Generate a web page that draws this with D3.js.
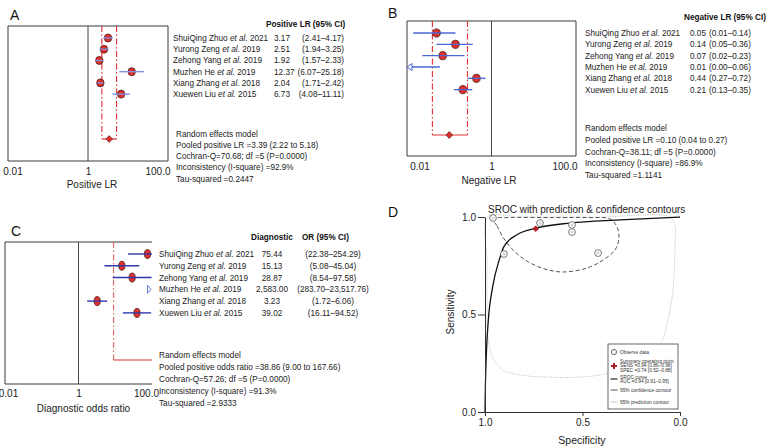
<!DOCTYPE html>
<html><head><meta charset="utf-8">
<script src="https://cdn.jsdelivr.net/npm/d3@7"></script>
<style>
body{margin:0;background:#fff;}
svg{font-family:"Liberation Sans",Arial,Helvetica,sans-serif;}
</style></head><body>
<svg id="c" width="770" height="448"></svg>
<script>
// ---------------- DATA ----------------
const studyNames = ["ShuiQing Zhuo", "Yurong Zeng", "Zehong Yang", "Muzhen He", "Xiang Zhang", "Xuewen Liu"];
const studyYears = [2021, 2019, 2019, 2019, 2018, 2015];
const forestTicks = [0.01, 1, 100];
const forestTickLabels = ["0.01", "1", "100.0"];

// A: positive LR
const plrEst = [3.17, 2.51, 1.92, 12.37, 2.04, 6.73];
const plrLo  = [2.41, 1.94, 1.57, 6.07, 1.71, 4.08];
const plrHi  = [4.17, 3.25, 2.33, 25.18, 2.42, 11.11];
const plrPooled = [3.39, 2.22, 5.18];
const plrStats = ["Random effects model", "Pooled positive LR =3.39 (2.22 to 5.18)",
  "Cochran-Q=70.68; df =5 (P=0.0000)", "Inconsistency (I-square) =92.9%", "Tau-squared =0.2447"];

// B: negative LR
const nlrEst = [0.05, 0.14, 0.07, 0.01, 0.44, 0.21];
const nlrLo  = [0.014, 0.05, 0.023, 0.003, 0.27, 0.13];
const nlrHi  = [0.14, 0.36, 0.23, 0.06, 0.72, 0.35];
const nlrPooled = [0.10, 0.04, 0.27];
const nlrStats = ["Random effects model", "Pooled positive LR =0.10 (0.04 to 0.27)",
  "Cochran-Q=38.11; df =5 (P=0.0000)", "Inconsistency (I-square) =86.9%", "Tau-squared =1.1141"];

// C: diagnostic odds ratio
const dorEst = [75.44, 15.13, 28.87, 2583.00, 3.23, 39.02];
const dorLo  = [22.38, 5.08, 8.54, 283.70, 1.72, 16.11];
const dorHi  = [254.29, 45.04, 97.58, 23517.76, 6.06, 94.52];
const dorPooled = [38.86, 9.00, 167.66];
const dorStats = ["Random effects model", "Pooled positive odds ratio =38.86 (9.00 to 167.66)",
  "Cochran-Q=57.26; df =5 (P=0.0000)", "Inconsistency (I-square) =91.3%", "Tau-squared =2.9333"];

// D: SROC
const obsSpec = [0.959, 0.718, 0.554, 0.554, 0.903, 0.420];
const obsSens = [0.995, 0.969, 0.959, 0.923, 0.810, 0.815];
const summaryPoint = {sens: 0.94, sensLo: 0.86, sensHi: 0.98, spec: 0.74, specLo: 0.52, specHi: 0.88};
const aucValues = [0.94, 0.91, 0.95];
const srocSpec = [1.0, 0.998, 0.993, 0.983, 0.961, 0.927, 0.903, 0.838, 0.733, 0.564, 0.308, 0.0];
const srocSens = [0.0, 0.13, 0.30, 0.47, 0.64, 0.78, 0.848, 0.908, 0.944, 0.969, 0.985, 1.0];
const confSpec = [0.959, 0.938, 0.908, 0.856, 0.785, 0.692, 0.600, 0.477, 0.395, 0.333, 0.313, 0.323, 0.359, 0.462, 0.667, 0.872];
const confSens = [0.990, 0.954, 0.897, 0.831, 0.774, 0.733, 0.718, 0.738, 0.779, 0.831, 0.892, 0.949, 0.990, 0.997, 0.997, 0.997];
const predSpec = [0.985, 0.990, 0.990, 0.985, 0.959, 0.908, 0.821, 0.682, 0.513, 0.359, 0.205, 0.103, 0.062, 0.036, 0.026, 0.026, 0.051, 0.41, 0.82];
const predSens = [1.0, 0.779, 0.574, 0.385, 0.277, 0.215, 0.190, 0.179, 0.179, 0.200, 0.256, 0.344, 0.472, 0.626, 0.831, 0.959, 1.0, 1.0, 1.0];
const srocTicks = [0, 0.5, 1];

// ---------------- DRAW ----------------
const svg = d3.select("#c");
const f2 = d3.format(".2f");
const f2c = d3.format(",.2f");
const BODY = 8.2;

function forest(cfg, est, lo, hi, pooled, stats) {
  const g = svg.append("g");
  const dmin = forestTicks[0], dmax = forestTicks[forestTicks.length - 1];
  const x = d3.scaleLog().domain([dmin, dmax]).range([cfg.x0, cfg.x1]);
  const y = d3.scaleLinear().domain([0, 9]).range([cfg.y0, cfg.yPool]);
  const cl = v => Math.min(dmax, Math.max(dmin, v));
  const bs = "#3a3a3a";
  const ln = (x1, y1, x2, y2) => g.append("line").attr("x1", x1).attr("y1", y1).attr("x2", x2).attr("y2", y2);

  // frame
  ln(cfg.x0, cfg.top, cfg.x1, cfg.top).attr("stroke", bs);
  ln(cfg.x0, cfg.top, cfg.x0, cfg.bottom).attr("stroke", bs);
  ln(cfg.x0, cfg.bottom, cfg.x1, cfg.bottom).attr("stroke", bs);
  if (cfg.right) ln(cfg.x1, cfg.top, cfg.x1, cfg.bottom).attr("stroke", bs);
  ln(x(1), cfg.top, x(1), cfg.bottom).attr("stroke", "#444");

  // pooled bracket
  const [pe, pl, ph] = pooled;
  [pl, ph].forEach(v => {
    if (v > dmin && v < dmax)
      ln(x(v), cfg.top, x(v), y(9)).attr("stroke", cfg.redDash).attr("stroke-width", 1.2)
        .attr("stroke-dasharray", "6,2.5,1.5,2.5");
  });
  ln(x(cl(pl)), y(9), x(cl(ph)), y(9)).attr("stroke", "#e03030").attr("stroke-width", 1.2);
  if (cfg.diamond) {
    const cx = x(pe), cy = y(9), w = 3.3, h = 3.4;
    g.append("path").attr("d", `M${cx - w},${cy}L${cx},${cy - h}L${cx + w},${cy}L${cx},${cy + h}Z`)
      .attr("fill", "#e0302a").attr("stroke", "#5a1a1a").attr("stroke-width", 0.7);
  }

  // markers
  est.forEach((e, i) => {
    if (e > dmin && e < dmax)
      g.append("ellipse").attr("cx", x(e)).attr("cy", y(i)).attr("rx", cfg.rx).attr("ry", cfg.ry)
        .attr("fill", "#e0302a").attr("stroke", "#4a1a1a").attr("stroke-width", 0.8);
  });
  // CIs
  est.forEach((e, i) => {
    if (lo[i] < dmax && hi[i] > dmin)
      ln(x(cl(lo[i])), y(i), x(cl(hi[i])), y(i)).attr("stroke", cfg.ciColor).attr("stroke-width", 1.4);
    if (e <= dmin) {
      const ax = x(dmin), ay = y(i);
      g.append("path").attr("d", `M${ax},${ay}L${ax + 5},${ay - 3.5}L${ax + 5},${ay + 3.5}Z`)
        .attr("fill", "#fff").attr("stroke", cfg.ciColor).attr("stroke-width", 1);
    }
    if (e >= dmax) {
      const ax = x(dmax) - 1, ay = y(i);
      g.append("path").attr("d", `M${ax},${ay}L${ax - 3.5},${ay - 4}L${ax - 3.5},${ay + 4}Z`)
        .attr("fill", "#fff").attr("stroke", cfg.arrowColor || cfg.ciColor).attr("stroke-width", 1);
    }
  });

  // axis
  const ax = g.append("g").attr("transform", `translate(0,${cfg.bottom})`)
    .call(d3.axisBottom(x).tickValues(forestTicks).tickSize(0).tickPadding(0)
      .tickFormat((d, i) => forestTickLabels[i]));
  ax.select(".domain").remove();
  ax.selectAll("text").attr("y", cfg.tickOff).attr("dy", 0).attr("font-size", 10)
    .attr("fill", "#222").attr("font-family", null)
    .attr("dx", (d, i) => i === 0 ? cfg.firstDx : (i === forestTicks.length - 1 ? cfg.lastDx : 0));
  g.append("text").attr("x", cfg.titleX).attr("y", cfg.titleY).attr("text-anchor", "middle")
    .attr("font-size", 10).attr("fill", "#222").text(cfg.title);

  // table text
  cfg.headers.forEach(h => {
    g.append("text").attr("x", h.x).attr("y", cfg.headerY).attr("font-size", BODY)
      .attr("font-weight", "bold").attr("fill", "#111").text(h.t);
  });
  const fmt = cfg.comma ? f2c : f2;
  est.forEach((e, i) => {
    const ty = y(i) + 3;
    const t = g.append("text").attr("x", cfg.nameX).attr("y", ty).attr("font-size", BODY).attr("fill", "#222");
    t.append("tspan").text(studyNames[i] + " ");
    t.append("tspan").attr("font-style", "italic").text("et al.");
    t.append("tspan").text(" " + studyYears[i]);
    g.append("text").attr("x", cfg.valX).attr("y", ty).attr("font-size", BODY).attr("fill", "#222")
      .attr("text-anchor", cfg.valAnchor).text(fmt(e));
    g.append("text").attr("x", cfg.ciX).attr("y", ty).attr("font-size", BODY).attr("fill", "#222")
      .attr("text-anchor", cfg.ciAnchor).text("(" + fmt(lo[i]) + "\u2013" + fmt(hi[i]) + ")");
  });
  stats.forEach((s, k) => {
    g.append("text").attr("x", cfg.statX).attr("y", cfg.statY + k * cfg.statDy + 3)
      .attr("font-size", BODY).attr("fill", "#222").text(s);
  });
  // panel label
  svg.append("text").attr("x", cfg.labX).attr("y", cfg.labY).attr("font-size", 14).attr("fill", "#111").text(cfg.label);
}

forest({x0: 8, x1: 168, top: 26, bottom: 161, y0: 38, yPool: 139, right: true, diamond: true,
  rx: 3.7, ry: 4, ciColor: "#7b93e2", redDash: "#e03a3a",
  tickOff: 13.5, firstDx: 4.5, lastDx: -10.5, titleX: 92, titleY: 187.5, title: "Positive LR",
  headers: [{x: 266, t: "Positive LR (95% CI)"}], headerY: 27,
  nameX: 173, valX: 274, valAnchor: "start", ciX: 344, ciAnchor: "end",
  statX: 176, statY: 133.5, statDy: 11.3, label: "A", labX: 10, labY: 20},
  plrEst, plrLo, plrHi, plrPooled, plrStats);

forest({x0: 407, x1: 576, top: 21, bottom: 156, y0: 33, yPool: 135, right: true, diamond: true,
  rx: 3.8, ry: 4.1, ciColor: "#4a68d4", redDash: "#e03a3a",
  tickOff: 13.5, firstDx: 12.5, lastDx: -11.5, titleX: 489, titleY: 183.5, title: "Negative LR",
  headers: [{x: 684, t: "Negative LR (95% CI)"}], headerY: 20,
  nameX: 585, valX: 690, valAnchor: "start", ciX: 709, ciAnchor: "start",
  statX: 585, statY: 128, statDy: 11.75, label: "B", labX: 388, labY: 18},
  nlrEst, nlrLo, nlrHi, nlrPooled, nlrStats);

forest({x0: 5, x1: 152, top: 242, bottom: 384, y0: 254, yPool: 360, right: false, diamond: false,
  rx: 3.1, ry: 4.5, ciColor: "#2e3aa8", arrowColor: "#6b7bd8", redDash: "#e07070",
  tickOff: 12.5, firstDx: 3, lastDx: -6, titleX: 83.5, titleY: 411.5, title: "Diagnostic odds ratio",
  headers: [{x: 251, t: "Diagnostic"}, {x: 302, t: "OR (95% CI)"}], headerY: 240,
  nameX: 159, valX: 272, valAnchor: "middle", ciX: 333, ciAnchor: "middle", comma: true,
  statX: 159, statY: 355, statDy: 12, label: "C", labX: 11, labY: 236},
  dorEst, dorLo, dorHi, dorPooled, dorStats);

// ---------------- D: SROC ----------------
(function () {
  const g = svg.append("g");
  const x = d3.scaleLinear().domain([1, 0]).range([485, 680]);
  const y = d3.scaleLinear().domain([0, 1]).range([412, 217]);

  const pred = predSpec.map((s, i) => [x(s), y(predSens[i])]);
  g.append("path").attr("d", d3.line().curve(d3.curveCatmullRomClosed.alpha(0.5))(pred))
    .attr("fill", "none").attr("stroke", "#b5b5b5").attr("stroke-width", 0.9).attr("stroke-dasharray", "1,1.3");
  const conf = confSpec.map((s, i) => [x(s), y(confSens[i])]);
  g.append("path").attr("d", d3.line().curve(d3.curveCatmullRomClosed.alpha(0.5))(conf))
    .attr("fill", "none").attr("stroke", "#555").attr("stroke-width", 1).attr("stroke-dasharray", "4,2.5");
  const sroc = srocSpec.map((s, i) => [x(s), y(srocSens[i])]);
  g.append("path").attr("d", d3.line().curve(d3.curveMonotoneX)(sroc.slice().reverse()))
    .attr("fill", "none").attr("stroke", "#111").attr("stroke-width", 1.3);

  obsSpec.forEach((s, i) => {
    g.append("circle").attr("cx", x(s)).attr("cy", y(obsSens[i])).attr("r", 3.4)
      .attr("fill", "#fff").attr("stroke", "#555").attr("stroke-width", 0.8);
    g.append("circle").attr("cx", x(s)).attr("cy", y(obsSens[i])).attr("r", 1.1)
      .attr("fill", "none").attr("stroke", "#999").attr("stroke-width", 0.5);
  });
  g.append("path").attr("transform", `translate(${x(summaryPoint.spec)},${y(summaryPoint.sens)}) rotate(45)`)
    .attr("d", d3.symbol(d3.symbolSquare, 22)()).attr("fill", "#b0202a");

  // axes
  const ya = g.append("g").attr("transform", "translate(485,0)")
    .call(d3.axisLeft(y).tickValues(srocTicks).tickFormat(d3.format(".1f")).tickSize(7).tickSizeOuter(0).tickPadding(2));
  const xa = g.append("g").attr("transform", "translate(0,412)")
    .call(d3.axisBottom(x).tickValues(srocTicks).tickFormat(d3.format(".1f")).tickSize(4).tickSizeOuter(0).tickPadding(3));
  [ya, xa].forEach(a => {
    a.selectAll("path,line").attr("stroke", "#333");
    a.selectAll("text").attr("font-size", 10).attr("fill", "#222").attr("font-family", null);
  });
  g.append("text").attr("transform", "translate(454,312) rotate(-90)").attr("text-anchor", "middle")
    .attr("font-size", 10).attr("fill", "#222").text("Sensitivity");
  g.append("text").attr("x", 582).attr("y", 443.5).attr("text-anchor", "middle")
    .attr("font-size", 10.5).attr("fill", "#222").text("Specificity");
  g.append("text").attr("x", 488).attr("y", 212.5).attr("font-size", 10).attr("fill", "#222")
    .text("SROC with prediction & confidence contours");
  svg.append("text").attr("x", 388).attr("y", 217).attr("font-size", 14).attr("fill", "#111").text("D");

  // legend
  const L = g.append("g");
  L.append("rect").attr("x", 608).attr("y", 344).attr("width", 70).attr("height", 65)
    .attr("fill", "#fff").attr("stroke", "#444").attr("stroke-width", 0.8);
  L.append("circle").attr("cx", 614).attr("cy", 352).attr("r", 2.6).attr("fill", "#fff").attr("stroke", "#444").attr("stroke-width", 0.8);
  L.append("path").attr("transform", "translate(614,366)").attr("d", d3.symbol(d3.symbolCross, 20)()).attr("fill", "#b0202a");
  L.append("line").attr("x1", 610.5).attr("x2", 617.5).attr("y1", 379).attr("y2", 379).attr("stroke", "#111").attr("stroke-width", 1.1);
  L.append("line").attr("x1", 610.5).attr("x2", 617.5).attr("y1", 390).attr("y2", 390).attr("stroke", "#444").attr("stroke-width", 0.9);
  L.append("line").attr("x1", 610.5).attr("x2", 617.5).attr("y1", 402).attr("y2", 402).attr("stroke", "#bbb").attr("stroke-width", 0.8);
  const sp = summaryPoint;
  const legTexts = [
    ["Observe data", 352],
    ["Summary operating point", 361],
    ["SENS =" + f2(sp.sens) + " [" + f2(sp.sensLo) + "\u2013" + f2(sp.sensHi) + "]", 365.5],
    ["SPEC =" + f2(sp.spec) + " [" + f2(sp.specLo) + "\u2013" + f2(sp.specHi) + "]", 370],
    ["SROC curve", 377],
    ["AUC =" + f2(aucValues[0]) + " [" + f2(aucValues[1]) + "\u2013" + f2(aucValues[2]) + "]", 381.5],
    ["95% confidence contour", 390],
    ["95% prediction contour", 402]
  ];
  legTexts.forEach(([t, ty]) => {
    L.append("text").attr("x", 620).attr("y", ty + 1.6).attr("font-size", 4.8).attr("fill", "#333").text(t);
  });
})();
</script>
</body></html>
